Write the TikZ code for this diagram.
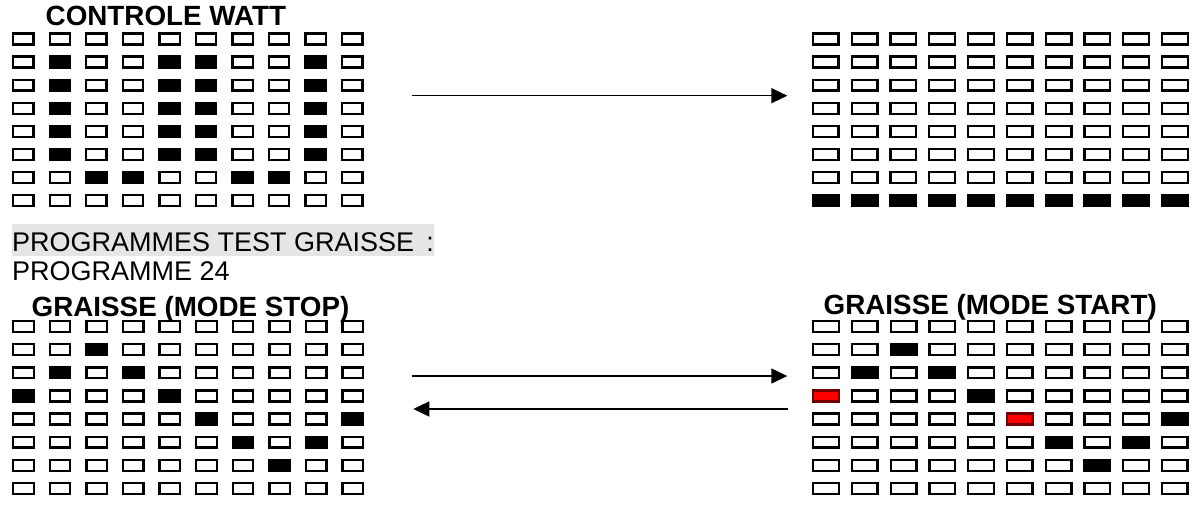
\documentclass[tikz,border=0pt]{standalone}
\usepackage{fontspec}
\setmainfont{Liberation Sans}
\usepackage{tikz}
\usetikzlibrary{arrows.meta, positioning}

% one LED panel: name, left x, top y, column step, box width, rows of states
\newcommand{\ledmatrix}[6]{%
  \foreach \states [count=\lin from 0] in {#6} {
    \foreach \s [count=\col from 0] in \states {
      \node[led\s, minimum width=#5] (#1-\lin-\col) at ({#2+\col*#4}, {#3+\lin*23.1}) {};
    }
  }
}

\begin{document}
\begin{tikzpicture}[
    x=1pt, y=-1pt,
    led/.style={draw, line width=2.3pt, minimum height=10.9pt, inner sep=0pt, outer sep=1.15pt, anchor=north west},
    led0/.style={led},
    led1/.style={led, fill=black},
    led2/.style={led, fill=red, draw=red!45!black},
    title/.style={font=\fontsize{27.8}{32}\selectfont\bfseries, anchor=base west, inner sep=0pt},
    plain/.style={font=\fontsize{27}{32}\selectfont, anchor=base west, inner sep=0pt},
    hilite/.style={plain, fill=black!10, text height=26.7pt, text depth=4.7pt},
    arrow/.style={-{Triangle[length=16pt, width=15pt]}, line width=1.4pt},
]
    \useasboundingbox (0,0) rectangle (1198,509);

    % Controle watt
    \node[title] (ctrl_title) at (45.5,25.7) {CONTROLE WATT};
    \ledmatrix{ctrl}{12}{32.3}{36.55}{20.3pt}{
      {0,0,0,0,0,0,0,0,0,0},
      {0,1,0,0,1,1,0,0,1,0},
      {0,1,0,0,1,1,0,0,1,0},
      {0,1,0,0,1,1,0,0,1,0},
      {0,1,0,0,1,1,0,0,1,0},
      {0,1,0,0,1,1,0,0,1,0},
      {0,0,1,1,0,0,1,1,0,0},
      {0,0,0,0,0,0,0,0,0,0}}
    \ledmatrix{ctrlend}{811.7}{32.3}{38.8}{25.7pt}{
      {0,0,0,0,0,0,0,0,0,0},
      {0,0,0,0,0,0,0,0,0,0},
      {0,0,0,0,0,0,0,0,0,0},
      {0,0,0,0,0,0,0,0,0,0},
      {0,0,0,0,0,0,0,0,0,0},
      {0,0,0,0,0,0,0,0,0,0},
      {0,0,0,0,0,0,0,0,0,0},
      {1,1,1,1,1,1,1,1,1,1}}

    \coordinate (ctrl_from) at (411.7,95.7);
    \coordinate (ctrl_to) at (787.3,95.7);
    \draw[arrow] (ctrl_from) -- (ctrl_to);

    % Programmes
    \node[hilite] (test_label) at (12,251) {PROGRAMMES TEST GRAISSE\hspace{0.45em}:\hspace{5pt}};
    \node[plain] (prog_label) at (12,280) {PROGRAMME 24};

    % Graisse stop / start
    \node[title] (stop_title) at (31.5,316) {GRAISSE (MODE STOP)};
    \node[title] (start_title) at (823.5,314) {GRAISSE (MODE START)};
    \ledmatrix{stop}{12}{320}{36.6}{20.5pt}{
      {0,0,0,0,0,0,0,0,0,0},
      {0,0,1,0,0,0,0,0,0,0},
      {0,1,0,1,0,0,0,0,0,0},
      {1,0,0,0,1,0,0,0,0,0},
      {0,0,0,0,0,1,0,0,0,1},
      {0,0,0,0,0,0,1,0,1,0},
      {0,0,0,0,0,0,0,1,0,0},
      {0,0,0,0,0,0,0,0,0,0}}
    \ledmatrix{start}{812}{320}{38.75}{25.7pt}{
      {0,0,0,0,0,0,0,0,0,0},
      {0,0,1,0,0,0,0,0,0,0},
      {0,1,0,1,0,0,0,0,0,0},
      {2,0,0,0,1,0,0,0,0,0},
      {0,0,0,0,0,2,0,0,0,1},
      {0,0,0,0,0,0,1,0,1,0},
      {0,0,0,0,0,0,0,1,0,0},
      {0,0,0,0,0,0,0,0,0,0}}

    \coordinate (stop_from) at (411.7,376);
    \coordinate (start_to) at (787.3,376);
    \coordinate (start_from) at (788.3,409);
    \coordinate (stop_to) at (413.3,409);
    \draw[arrow] (stop_from) -- (start_to);
    \draw[arrow] (start_from) -- (stop_to);

\end{tikzpicture}
\end{document}
